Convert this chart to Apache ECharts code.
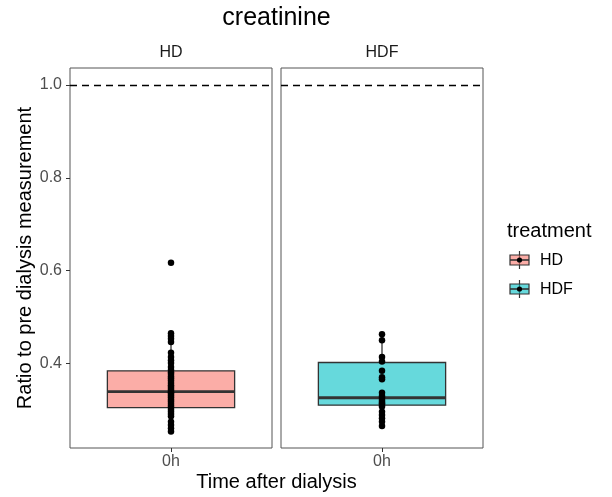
<!DOCTYPE html>
<html><head><meta charset="utf-8">
<script src="https://cdn.jsdelivr.net/npm/echarts@6/dist/echarts.min.js"></script>
<style>html,body{margin:0;padding:0;background:#fff}#c{width:612px;height:497px}</style>
</head><body><div id="c"></div>
<script>
const chartTitle = 'creatinine';
const categories = ['0h'];
const panels = ['HD', 'HDF'];
const yTicks = [0.4, 0.6, 0.8, 1.0];
const refLine = 1.0;
// box stats: [lower whisker, Q1, median, Q3, upper whisker]
const boxHD = [0.253, 0.3045, 0.339, 0.384, 0.465];
const boxHDF = [0.265, 0.310, 0.326, 0.402, 0.463];
const pointsHD = [0.617, 0.465, 0.459, 0.453, 0.446, 0.423, 0.414, 0.407, 0.401, 0.392, 0.386, 0.381, 0.377, 0.372, 0.368, 0.363, 0.358, 0.353, 0.349, 0.345, 0.341, 0.338, 0.335, 0.331, 0.327, 0.322, 0.318, 0.313, 0.309, 0.305, 0.300, 0.296, 0.291, 0.286, 0.274, 0.267, 0.260, 0.253];
const pointsHDF = [0.463, 0.450, 0.414, 0.404, 0.384, 0.370, 0.366, 0.337, 0.330, 0.326, 0.321, 0.317, 0.314, 0.311, 0.307, 0.296, 0.289, 0.282, 0.274, 0.265];
const fills = ['rgba(248,118,109,0.6)', 'rgba(0,191,196,0.6)'];

const FONT = '"Liberation Sans", Arial, sans-serif';
const yMin = 0.2177, yMax = 1.0366;
const gridLefts = [70, 281];
const gridW = 202, gridTop = 68, gridH = 380;

function boxRender(color) {
  return function (params, api) {
    const x = api.value(0);
    const lo = api.coord([x, api.value(1)]);
    const q1 = api.coord([x, api.value(2)]);
    const md = api.coord([x, api.value(3)]);
    const q3 = api.coord([x, api.value(4)]);
    const hi = api.coord([x, api.value(5)]);
    const w = api.size([1, 0])[0] * 0.63;
    const cx = lo[0];
    const st = { stroke: '#333', lineWidth: 1.3 };
    return { type: 'group', children: [
      { type: 'line', shape: { x1: cx, y1: hi[1], x2: cx, y2: q3[1] }, style: st },
      { type: 'line', shape: { x1: cx, y1: q1[1], x2: cx, y2: lo[1] }, style: st },
      { type: 'rect', shape: { x: cx - w / 2, y: q3[1], width: w, height: q1[1] - q3[1] }, style: { fill: color, stroke: '#333', lineWidth: 1.3 } },
      { type: 'line', shape: { x1: cx - w / 2, y1: md[1], x2: cx + w / 2, y2: md[1] }, style: { stroke: '#333', lineWidth: 2.8 } }
    ]};
  };
}

const boxes = [boxHD, boxHDF];
const points = [pointsHD, pointsHDF];

const grids = gridLefts.map(l => ({ left: l, top: gridTop, width: gridW, height: gridH, show: true, borderColor: '#555', borderWidth: 1, backgroundColor: '#fff' }));
const xAxes = panels.map((p, i) => ({
  type: 'category', gridIndex: i, data: categories,
  axisLine: { show: false },
  axisTick: { show: true, alignWithLabel: true, length: 4, lineStyle: { color: '#333' } },
  axisLabel: { color: '#4d4d4d', fontSize: 16, fontFamily: FONT, margin: 6 },
  splitLine: { show: false }
}));
const yAxes = panels.map((p, i) => ({
  type: 'value', gridIndex: i, min: yMin, max: yMax,
  axisLine: { show: false },
  axisTick: { show: i === 0, length: 4, customValues: yTicks, lineStyle: { color: '#333' } },
  axisLabel: { show: i === 0, customValues: yTicks, color: '#4d4d4d', fontSize: 16, fontFamily: FONT, margin: 8, formatter: v => v.toFixed(1) },
  splitLine: { show: false }
}));

const series = [];
panels.forEach((p, i) => {
  series.push({
    type: 'custom', xAxisIndex: i, yAxisIndex: i, z: 2,
    renderItem: boxRender(fills[i]),
    data: [[0].concat(boxes[i])]
  });
  series.push({
    type: 'scatter', xAxisIndex: i, yAxisIndex: i, z: 5,
    symbolSize: 6.5, itemStyle: { color: '#000', opacity: 1 },
    data: points[i].map(v => [categories[0], v]),
    markLine: { silent: true, symbol: 'none', label: { show: false },
      lineStyle: { color: '#000', type: [7, 5], width: 1.3 },
      data: [{ yAxis: refLine }] }
  });
});

const textStyle = (t, x, y, size, color, extra) => ({ type: 'text', x, y, style: Object.assign({ text: t, font: size + 'px ' + FONT, fill: color, textAlign: 'center', textVerticalAlign: 'middle' }, extra || {}) });

const graphic = [
  textStyle(chartTitle, 276.5, 18, 25, '#000'),
  textStyle(panels[0], 171, 53, 16, '#1a1a1a'),
  textStyle(panels[1], 382, 53, 16, '#1a1a1a'),
  textStyle('Time after dialysis', 276.5, 482, 20, '#000'),
  { type: 'text', x: 25, y: 258, rotation: Math.PI / 2, style: { text: 'Ratio to pre dialysis measurement', font: '20px ' + FONT, fill: '#000', textAlign: 'center', textVerticalAlign: 'middle' } },
  textStyle('treatment', 507, 231, 20, '#000', { textAlign: 'left' })
];
const keyY = [260, 289];
panels.forEach((p, i) => {
  const cy = keyY[i], cx = 519.5;
  graphic.push({ type: 'line', shape: { x1: cx, y1: cy - 9, x2: cx, y2: cy + 9 }, style: { stroke: '#333', lineWidth: 1.2 } });
  graphic.push({ type: 'rect', shape: { x: cx - 9.5, y: cy - 5, width: 19, height: 10 }, style: { fill: fills[i], stroke: '#333', lineWidth: 1.2 } });
  graphic.push({ type: 'line', shape: { x1: cx - 9.5, y1: cy, x2: cx + 9.5, y2: cy }, style: { stroke: '#333', lineWidth: 1.6 } });
  graphic.push({ type: 'circle', shape: { cx: cx, cy: cy, r: 2.6 }, style: { fill: '#000' } });
  graphic.push(textStyle(p, 540, cy + 0.5, 16, '#000', { textAlign: 'left' }));
});

const chart = echarts.init(document.getElementById('c'), null, { renderer: 'canvas' });
chart.setOption({
  animation: false,
  backgroundColor: '#fff',
  grid: grids, xAxis: xAxes, yAxis: yAxes, series, graphic
});
</script></body></html>
